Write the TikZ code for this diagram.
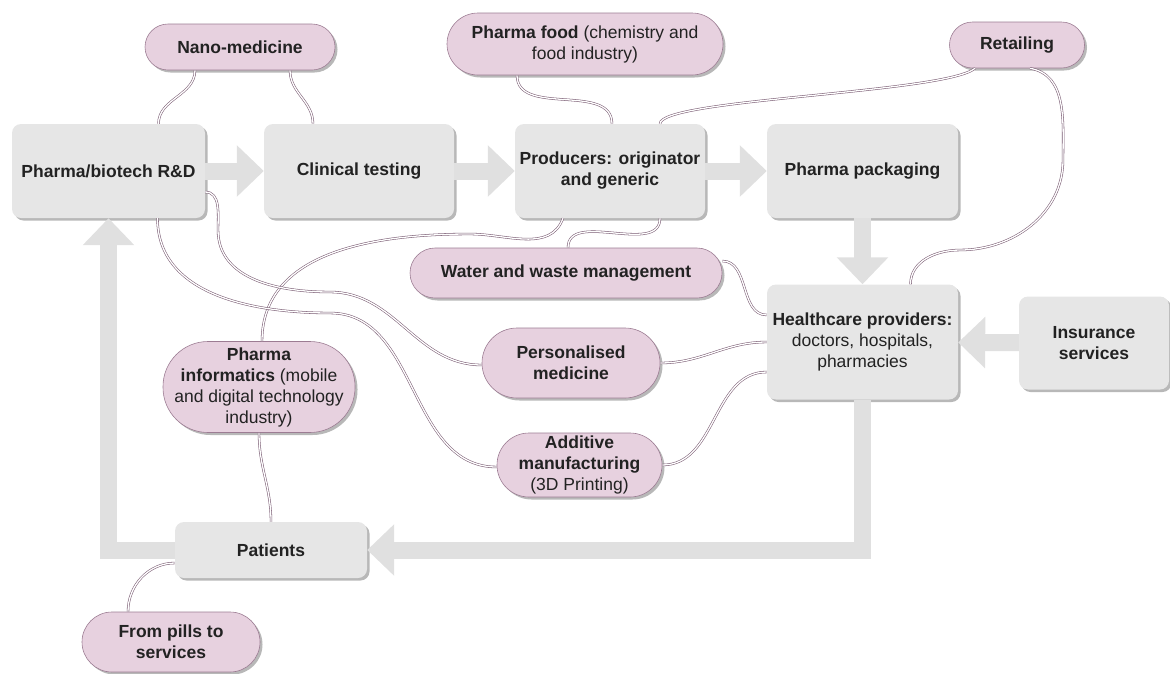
\documentclass[tikz,border=0pt]{standalone}
\usepackage{fontspec}
\setmainfont{Liberation Sans}
\usepackage{xcolor}
\usepackage{tikz}
\usetikzlibrary{arrows.meta,shadows}
\definecolor{boxc}{HTML}{E6E6E6}
\definecolor{pillc}{HTML}{E7D1DF}
\definecolor{pillline}{HTML}{9C7C93}
\definecolor{linkc}{HTML}{7A5C73}
\definecolor{arrowc}{HTML}{E0E0E0}
\definecolor{shadowc}{HTML}{B8B8B8}
\definecolor{txt}{HTML}{222222}

\begin{document}
\begin{tikzpicture}[x=1pt,y=1pt,font=\fontsize{17.5}{21}\selectfont,text=txt,
  box/.style={rectangle,rounded corners=9pt,fill=boxc,inner sep=0pt,align=center,
    minimum width=191pt,minimum height=94pt,font=\fontsize{17.5}{21}\selectfont\bfseries,
    drop shadow={shadow xshift=2.5pt,shadow yshift=-2.5pt,fill=shadowc,opacity=1}},
  pill/.style={rectangle,rounded corners=#1,fill=pillc,draw=pillline,line width=0.6pt,
    inner sep=0pt,align=center,
    drop shadow={shadow xshift=2.5pt,shadow yshift=-2.5pt,fill=shadowc,opacity=1}},
  pill/.default=23pt,
  link/.style={draw=linkc,line width=0.55pt,double=white,double distance=1.3pt},
  bigarrow/.style={draw=arrowc,line width=17pt,-{Triangle[width=50pt,length=27pt]}}]
\useasboundingbox (0,0) rectangle (1170,-673);
% main chain
\node[box,minimum width=193pt] (rd) at (108.5,-171) {Pharma/biotech R\&D};
\node[box,minimum width=190pt] (ct) at (359,-171) {Clinical testing};
\node[box,minimum width=190pt] (pr) at (610,-171) {Producers: originator\\and generic};
\node[box] (pk) at (862.5,-171) {Pharma packaging};
\node[box,minimum height=115pt] (hc) at (862.5,-342) {Healthcare providers:\\{\mdseries doctors, hospitals,}\\{\mdseries pharmacies}};
\node[box,minimum width=150pt,minimum height=93pt] (ins) at (1094,-343) {Insurance\\services};
\node[box,minimum width=192pt,minimum height=56pt] (pt) at (271,-550) {Patients};
% related industries
\node[pill,minimum width=190pt,minimum height=46pt] (nano) at (240,-47) {\textbf{Nano-medicine}};
\node[pill=31pt,minimum width=276pt,minimum height=62pt] (food) at (585,-44) {\textbf{Pharma food} (chemistry and\\food industry)};
\node[pill,minimum width=135pt,minimum height=46pt] (ret) at (1017,-45) {\textbf{Retailing}};
\node[pill=25pt,minimum width=312pt,minimum height=50pt] (water) at (566,-273) {\textbf{Water and waste management}};
\node[pill=35pt,minimum width=178pt,minimum height=70pt] (pers) at (571,-363) {\textbf{Personalised}\\\textbf{medicine}};
\node[pill=32pt,minimum width=165pt,minimum height=64pt] (add) at (579.5,-465) {\textbf{Additive}\\\textbf{manufacturing}\\(3D Printing)};
\node[pill=45pt,minimum width=192pt,minimum height=91pt] (info) at (259,-387) {\textbf{Pharma}\\\textbf{informatics} (mobile\\and digital technology\\industry)};
\node[pill=30pt,minimum width=178pt,minimum height=60pt] (pills) at (171,-642) {\textbf{From pills to}\\\textbf{services}};
% links
\draw[link] ([xshift=-45pt]nano.south) to[out=-90,in=90] ([xshift=50pt]rd.north);
\draw[link] ([xshift=50pt]nano.south) to[out=-90,in=90] ([xshift=-46pt]ct.north);
\draw[link] ([xshift=-68pt]food.south) to[out=-90,in=90] ([xshift=2pt]pr.north);
\draw[link] ([xshift=-42pt]ret.south) .. controls +(-30,-25) and +(0,25) .. ([xshift=50pt]pr.north);
\draw[link] ([xshift=13pt]ret.south) to[out=-10,in=90] (1063,-160) to[out=-90,in=0] (960,-250)
  to[out=180,in=90] ([xshift=48pt]hc.north);
\draw[link] ([xshift=-47pt]pr.south) to[out=-110,in=0] (470,-234) to[out=180,in=90] ([xshift=3pt]info.north);
\draw[link] ([xshift=50pt]pr.south) to[out=-90,in=90] ([xshift=2pt]water.north);
\draw[link] (info.south) to[out=-90,in=90] (pt.north);
\draw[link] ([yshift=-21pt]rd.east) to[out=0,in=90] (218,-230) to[out=-90,in=180] (330,-292)
  to[out=0,in=180] ([yshift=-2pt]pers.west);
\draw[link] ([xshift=49pt]rd.south) to[out=-90,in=180] (330,-313) to[out=0,in=180] ([yshift=-2pt]add.west);
\draw[link] ([yshift=12pt]water.east) to[out=0,in=180] ([yshift=27pt]hc.west);
\draw[link] (pers.east) to[out=0,in=180] (hc.west);
\draw[link] (add.east) to[out=0,in=180] ([yshift=-30pt]hc.west);
\draw[link] ([yshift=-13pt]pt.west) to[out=180,in=90] ([xshift=-43pt]pills.north);
% flow arrows
\foreach \a/\b in {rd/ct,ct/pr,pr/pk,pk/hc,ins/hc}
  \draw[bigarrow] (\a) -- (\b);
\draw[bigarrow] (hc) |- (pt);
\draw[bigarrow] (pt) -| (rd);
\end{tikzpicture}
\end{document}
